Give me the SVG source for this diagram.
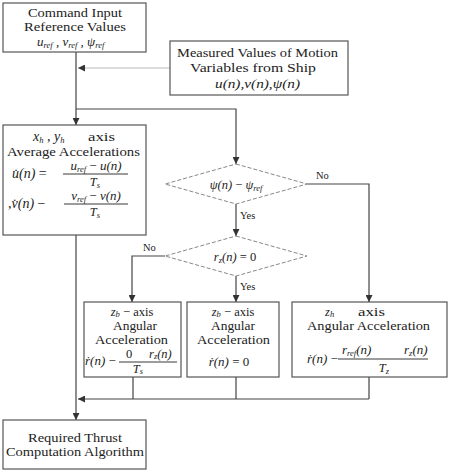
<svg xmlns="http://www.w3.org/2000/svg" width="450" height="472" viewBox="0 0 450 472">
<style>
.box{fill:#fff;stroke:#555;stroke-width:1.2}
.dia{fill:#fff;stroke:#888;stroke-width:1;stroke-dasharray:4 2}
.ln{fill:none;stroke:#444;stroke-width:1.2}
.lg{fill:none;stroke:#bbb;stroke-width:1.2}
text{font-family:"Liberation Serif","Times New Roman",serif;font-size:12.5px;fill:#222}
.c{text-anchor:middle}
.i{font-style:italic}
.s{font-size:8.5px;font-style:italic}
.f{font-size:14px}
.q{font-size:13px}
.bar{stroke:#222;stroke-width:0.9}
.lb{font-size:10.5px}
</style>
<defs>
<marker id="ah" viewBox="0 0 10 10" refX="10" refY="5" markerWidth="7" markerHeight="7" markerUnits="userSpaceOnUse" orient="auto">
<path d="M0,0 L10,5 L0,10 z" fill="#333"/>
</marker>
</defs>
<rect width="450" height="472" fill="#fff"/>
<g id="connectors">
<path class="ln" d="M76,52 V125" marker-end="url(#ah)"/>
<path class="lg" d="M170,68 H78" marker-end="url(#ah)"/>
<path class="ln" d="M76,109 H236 V164" marker-end="url(#ah)"/>
<path class="ln" d="M236,204 V236" marker-end="url(#ah)"/>
<path class="ln" d="M307,184 H369 V302" marker-end="url(#ah)"/>
<path class="ln" d="M165,256 H132 V302" marker-end="url(#ah)"/>
<path class="ln" d="M236,276 V302" marker-end="url(#ah)"/>
<path class="ln" d="M76,235 V420" marker-end="url(#ah)"/>
<path class="ln" d="M133,377 V399 M236,377 V399 M369,377 V399"/>
<path class="ln" d="M369,399 H78" marker-end="url(#ah)"/>
<text class="lb" x="316" y="179">No</text>
<text class="lb" x="240" y="219">Yes</text>
<text class="lb" x="143" y="251">No</text>
<text class="lb" x="240" y="290">Yes</text>
</g>
<g id="cmd">
<rect class="box" x="3" y="3" width="143" height="49"/>
<text x="28" y="17" textLength="94" lengthAdjust="spacingAndGlyphs">Command Input</text>
<text x="24" y="31" textLength="102" lengthAdjust="spacingAndGlyphs">Reference Values</text>
<text x="37" y="46" class="i q">u<tspan class="s" dy="1.5">ref</tspan><tspan dy="-1.5"> , v</tspan><tspan class="s" dy="1.5">ref</tspan><tspan dy="-1.5"> , ψ</tspan><tspan class="s" dy="1.5">ref</tspan></text>
</g>
<g id="measured">
<rect class="box" x="170" y="41" width="178" height="54"/>
<text x="177" y="57" textLength="161" lengthAdjust="spacingAndGlyphs">Measured Values of Motion</text>
<text x="190" y="72" textLength="126" lengthAdjust="spacingAndGlyphs">Variables from Ship</text>
<text class="i" x="215" y="88" font-size="13.5" textLength="85" lengthAdjust="spacingAndGlyphs">u(n),v(n),ψ(n)</text>
</g>
<g id="avg">
<rect class="box" x="3" y="125" width="143" height="110"/>
<text x="33" y="141" class="i f">x<tspan class="s" dy="1.5">h</tspan><tspan dy="-1.5"> , y</tspan><tspan class="s" dy="1.5">h</tspan></text>
<text x="88" y="141" textLength="27" lengthAdjust="spacingAndGlyphs">axis</text>
<text x="7" y="156" textLength="133" lengthAdjust="spacingAndGlyphs">Average Accelerations</text>
<text x="12" y="178" class="i f">u̇(n) <tspan font-style="normal">=</tspan></text>
<text class="c i q" x="96" y="170">u<tspan class="s" dy="1.5">ref</tspan><tspan dy="-1.5" font-style="normal"> − </tspan>u(n)</text>
<line class="bar" x1="63" y1="174" x2="128" y2="174"/>
<text class="c i" x="95" y="186" font-size="11.5">T<tspan class="s" dy="1.5">s</tspan></text>
<text x="8" y="208" class="i f">,v̇(n) <tspan font-style="normal">−</tspan></text>
<text class="c i q" x="96" y="200">v<tspan class="s" dy="1.5">ref</tspan><tspan dy="-1.5" font-style="normal"> − </tspan>v(n)</text>
<line class="bar" x1="64" y1="204" x2="128" y2="204"/>
<text class="c i" x="95" y="216" font-size="11.5">T<tspan class="s" dy="1.5">s</tspan></text>
</g>
<g id="d1">
<polygon class="dia" points="236,164 307,184 236,204 165,184"/>
<text class="c i" x="236" y="189" font-size="15">ψ(n) <tspan font-style="normal">−</tspan> ψ<tspan class="s" dy="1.5">ref</tspan></text>
</g>
<g id="d2">
<polygon class="dia" points="236,236 307,256 236,276 165,256"/>
<text class="c i" x="235" y="261" font-size="15">r<tspan class="s" dy="1.5">z</tspan><tspan dy="-1.5">(n) </tspan><tspan font-style="normal">= 0</tspan></text>
</g>
<g id="b4">
<rect class="box" x="84" y="302" width="97" height="75"/>
<text class="c" x="132" y="316"><tspan class="i">z</tspan><tspan class="s" dy="1">b</tspan><tspan dy="-1"> − axis</tspan></text>
<text x="113" y="330" textLength="44" lengthAdjust="spacingAndGlyphs">Angular</text>
<text x="95" y="344" textLength="73" lengthAdjust="spacingAndGlyphs">Acceleration</text>
<text x="85" y="365" class="i q">ṙ(n) <tspan font-style="normal">−</tspan></text>
<text x="126" y="358" font-size="12">0</text>
<text x="149" y="358" class="i" font-size="12">r<tspan class="s" dy="1">z</tspan><tspan dy="-1">(n)</tspan></text>
<line class="bar" x1="119" y1="362" x2="177" y2="362"/>
<text class="c i" x="138" y="373" font-size="11">T<tspan class="s" dy="1">s</tspan></text>
</g>
<g id="b5">
<rect class="box" x="187" y="302" width="92" height="75"/>
<text class="c" x="233" y="316"><tspan class="i">z</tspan><tspan class="s" dy="1">b</tspan><tspan dy="-1"> − axis</tspan></text>
<text x="211" y="330" textLength="44" lengthAdjust="spacingAndGlyphs">Angular</text>
<text x="197" y="344" textLength="73" lengthAdjust="spacingAndGlyphs">Acceleration</text>
<text class="c i q" x="229" y="366">ṙ(n) <tspan font-style="normal">= 0</tspan></text>
</g>
<g id="b6">
<rect class="box" x="292" y="302" width="155" height="75"/>
<text x="325" y="316" class="i">z<tspan class="s" dy="1">h</tspan></text>
<text x="358" y="316" textLength="27" lengthAdjust="spacingAndGlyphs">axis</text>
<text x="307" y="330" textLength="123" lengthAdjust="spacingAndGlyphs">Angular Acceleration</text>
<text x="307" y="363" class="i q">ṙ(n) <tspan font-style="normal">−</tspan></text>
<text x="342" y="354" class="i q">r<tspan class="s" dy="1.5">ref</tspan><tspan dy="-1.5">(n)</tspan></text>
<text x="404" y="354" class="i q">r<tspan class="s" dy="1.5">z</tspan><tspan dy="-1.5">(n)</tspan></text>
<line class="bar" x1="338" y1="359" x2="428" y2="359"/>
<text class="c i" x="384" y="372" font-size="11.5">T<tspan class="s" dy="1.5">z</tspan></text>
</g>
<g id="thrust">
<rect class="box" x="3" y="420" width="143" height="49"/>
<text x="28" y="442" textLength="94" lengthAdjust="spacingAndGlyphs">Required Thrust</text>
<text x="6" y="456" textLength="138" lengthAdjust="spacingAndGlyphs">Computation Algorithm</text>
</g>
</svg>
